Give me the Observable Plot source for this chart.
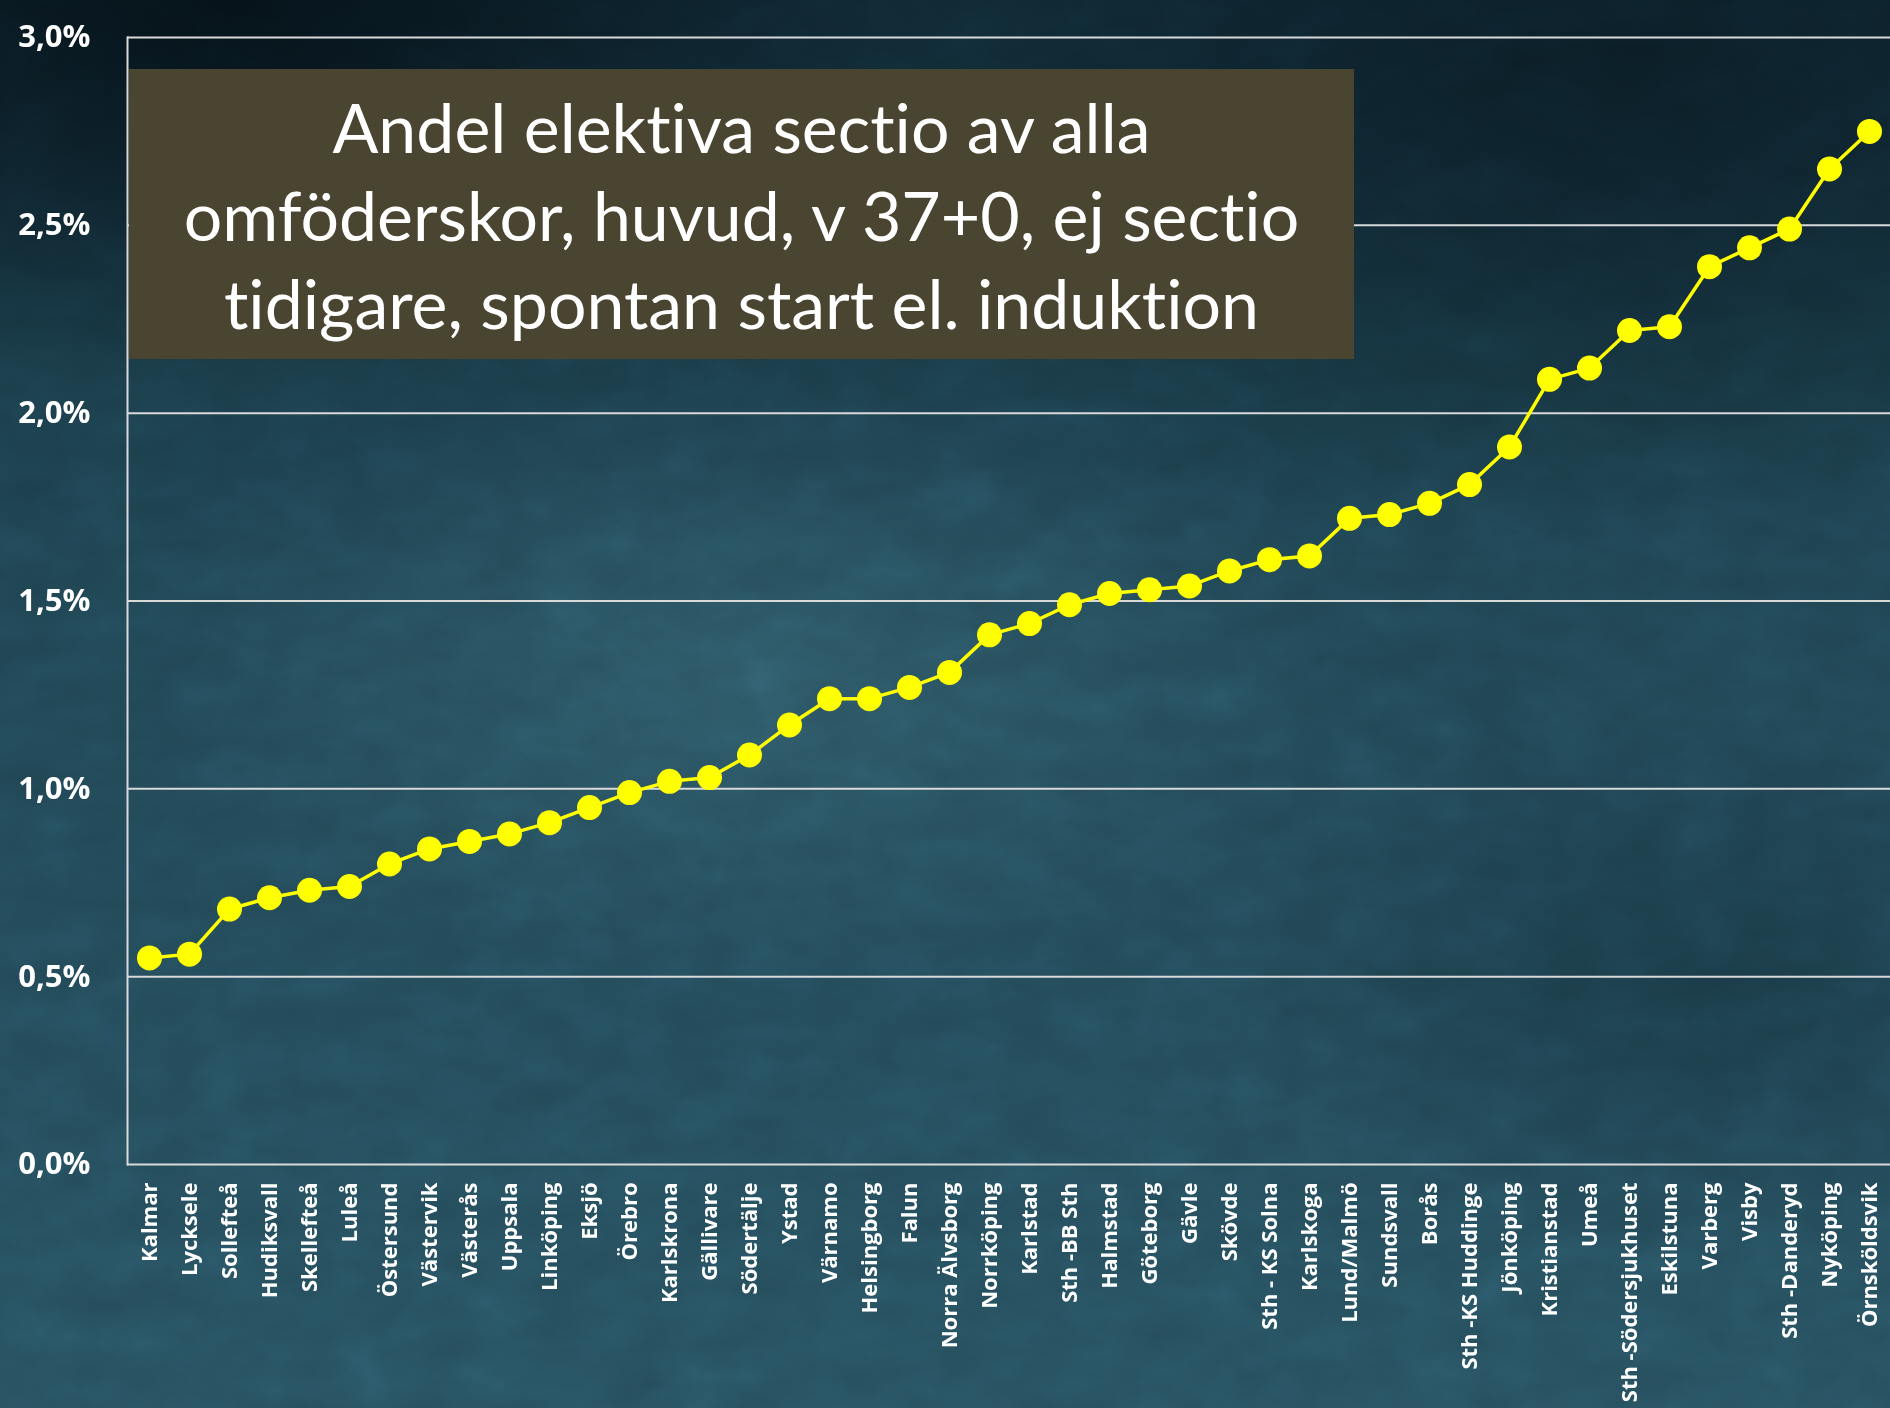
<!DOCTYPE html>
<html><head><meta charset="utf-8">
<script src="https://cdn.jsdelivr.net/npm/d3@7"></script>
<script src="https://cdn.jsdelivr.net/npm/@observablehq/plot@0.6"></script>
<style>
html,body{margin:0;padding:0;}
body{width:1890px;height:1408px;overflow:hidden;position:relative;
 background:
  radial-gradient(ellipse 1000px 520px at 12% 0%, rgba(4,14,20,0.9), rgba(4,14,20,0) 75%),
  radial-gradient(ellipse 1100px 600px at 85% 5%, rgba(8,24,32,0.75), rgba(8,24,32,0) 75%),
  radial-gradient(ellipse 900px 450px at 40% 48%, rgba(70,120,135,0.35), rgba(70,120,135,0) 70%),
  radial-gradient(ellipse 700px 400px at 90% 70%, rgba(10,30,40,0.35), rgba(10,30,40,0) 70%),
  linear-gradient(180deg, #112b37 0%, #1f4452 40%, #27505f 100%);
}
#noise{position:absolute;left:0;top:0;opacity:0.3;mix-blend-mode:overlay;}
#chart{position:absolute;left:0;top:0;}
#title{position:absolute;left:129px;top:69px;width:1225px;height:290px;background:#4a4530;color:#fff;
 font-family:Lato,"Open Sans",sans-serif;font-size:68px;line-height:88px;text-align:center;
 font-variant-ligatures:none;font-feature-settings:"liga" 0,"clig" 0;
 display:flex;align-items:center;justify-content:center;padding-top:2px;box-sizing:border-box;}
</style></head><body>
<svg id="noise" width="1890" height="1408"><filter id="n"><feTurbulence type="fractalNoise" baseFrequency="0.015 0.025" numOctaves="6" seed="3"/><feColorMatrix type="saturate" values="0"/></filter><rect width="1890" height="1408" filter="url(#n)"/></svg>
<div id="chart"></div>
<div id="title">Andel elektiva sectio av alla<br>omföderskor, huvud, v 37+0, ej sectio<br>tidigare, spontan start el. induktion</div>
<script>
const hospitals = ["Kalmar","Lycksele","Sollefteå","Hudiksvall","Skellefteå","Luleå","Östersund","Västervik","Västerås","Uppsala","Linköping","Eksjö","Örebro","Karlskrona","Gällivare","Södertälje","Ystad","Värnamo","Helsingborg","Falun","Norra Älvsborg","Norrköping","Karlstad","Sth -BB Sth","Halmstad","Göteborg","Gävle","Skövde","Sth - KS Solna","Karlskoga","Lund/Malmö","Sundsvall","Borås","Sth -KS Huddinge","Jönköping","Kristianstad","Umeå","Sth -Södersjukhuset","Eskilstuna","Varberg","Visby","Sth -Danderyd","Nyköping","Örnsköldsvik"];
const values = [0.55,0.56,0.68,0.71,0.73,0.74,0.80,0.84,0.86,0.88,0.91,0.95,0.99,1.02,1.03,1.09,1.17,1.24,1.24,1.27,1.31,1.41,1.44,1.49,1.52,1.53,1.54,1.58,1.61,1.62,1.72,1.73,1.76,1.81,1.91,2.09,2.12,2.22,2.23,2.39,2.44,2.49,2.65,2.75];
const yTicks = [0,0.5,1,1.5,2,2.5,3];

const data = hospitals.map((h,i)=>({hospital:h, value:values[i]}));
const fmt = d => d.toFixed(1).replace(".", ",") + "%";

const chart = Plot.plot({
  width:1890, height:1408,
  marginLeft:127, marginRight:0, marginTop:37, marginBottom:244,
  style:{background:"transparent", color:"#ffffff", fontFamily:"'Open Sans', sans-serif", overflow:"visible"},
  x:{type:"point", domain:hospitals, padding:0.5, axis:null},
  y:{domain:[0,3], axis:null},
  marks:[
    Plot.gridY(yTicks,{stroke:"#d9d9d9", strokeOpacity:1, strokeWidth:2}),
    Plot.frame({anchor:"left", stroke:"#d9d9d9", strokeWidth:2}),
    Plot.axisY(yTicks,{tickFormat:fmt, tickSize:0, tickPadding:37, fontSize:31, fontWeight:"bold", fill:"#ffffff", label:null}),
    Plot.axisX({tickSize:0, tickPadding:18, tickRotate:-90, fontSize:22, fontWeight:"bold", fill:"#ffffff", label:null}),
    Plot.line(data,{x:"hospital", y:"value", stroke:"#ffff00", strokeWidth:3.5}),
    Plot.dot(data,{x:"hospital", y:"value", r:12.5, fill:"#ffff00", stroke:"none"})
  ]
});
document.getElementById("chart").appendChild(chart);
</script>
</body></html>
